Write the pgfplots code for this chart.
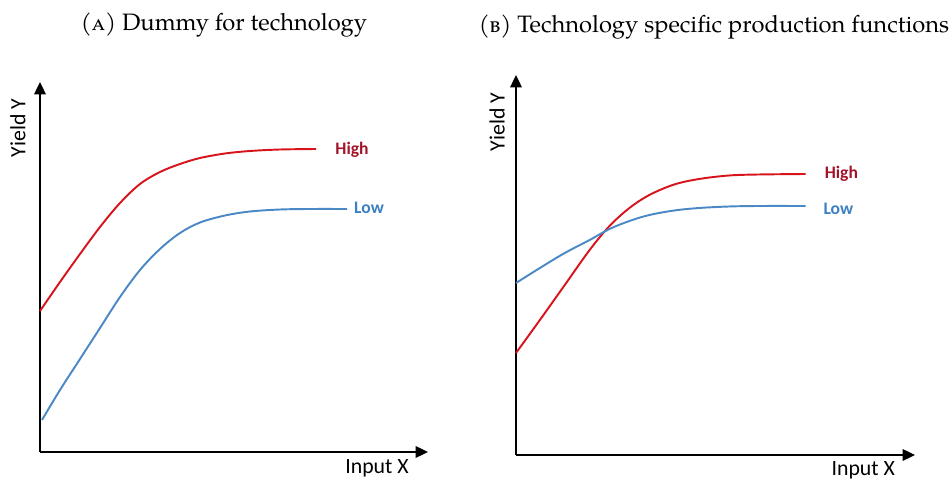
\documentclass[border=0pt]{standalone}
\usepackage{fontspec}
\usepackage{pgfplots}
\pgfplotsset{compat=1.18}
\usetikzlibrary{arrows.meta}
\newfontfamily\pala{TeX Gyre Pagella}
\newfontfamily\cali{Carlito}
\definecolor{curvered}{HTML}{D7141C}
\definecolor{curveblue}{HTML}{4A89C6}
\definecolor{labred}{HTML}{A3142B}
\definecolor{labblue}{HTML}{3C7FC2}
\pgfplotsset{
  sk/.style={
    scale only axis, clip=false,
    axis lines=left,
    xtick=\empty, ytick=\empty,
    axis line style={line width=1.1pt, -{Triangle[length=7pt,width=6.5pt]}},
    anchor=south west,
  },
  redc/.style={curvered, line width=1.1pt, smooth, tension=0.55, no marks},
  bluec/.style={curveblue, line width=1.1pt, smooth, tension=0.55, no marks},
}
\begin{document}
\begin{tikzpicture}
\useasboundingbox (0,0) rectangle (19.02,9.62);
% ---------- panel A ----------
\begin{axis}[sk, at={(0.8cm,0.58cm)}, width=7.76cm, height=7.4cm,
  xmin=40, xmax=428, ymin=29, ymax=399]
\addplot[redc] coordinates {(40,170) (60,199) (80,227) (100,254) (120,278) (140,297) (160,309) (180,317) (200,323) (225,327.5) (250,330) (280,331.5) (316,332)};
\addplot[bluec] coordinates {(42,61) (60,91) (80,122) (100,153) (120,184) (140,211) (160,232) (180,248) (200,258.5) (225,265.5) (250,269.5) (280,271.5) (310,272) (347,272)};
\node[text=labred, font=\cali\bfseries\fontsize{10}{12}\selectfont] at (axis cs:352,331) {High};
\node[text=labblue, font=\cali\bfseries\fontsize{10}{12}\selectfont] at (axis cs:369,273) {Low};
\node[font=\cali\fontsize{12.4}{14}\selectfont] at (axis cs:377,13) {Input X};
\node[font=\cali\fontsize{12.4}{14}\selectfont, rotate=90] at (axis cs:18,353) {Yield Y};
\node[font=\pala\fontsize{13.5}{16}\selectfont] at (axis cs:224,456) {(\textsc{a}) Dummy for technology};
\end{axis}
% ---------- panel B ----------
\begin{axis}[sk, at={(10.32cm,0.52cm)}, width=7.98cm, height=7.6cm,
  xmin=516, xmax=917, ymin=26, ymax=406]
\addplot[redc] coordinates {(516,128) (540,161) (565,196) (590,231) (610,255) (630,273) (650,286) (675,296.5) (700,302) (730,305.5) (760,306.5) (807,307)};
\addplot[bluec] coordinates {(516,198) (540,213) (565,228) (590,241) (610,252) (630,260) (650,266) (675,270.5) (700,273) (730,274.5) (760,275) (807,275)};
\node[text=labred, font=\cali\bfseries\fontsize{10}{12}\selectfont] at (axis cs:843,307) {High};
\node[text=labblue, font=\cali\bfseries\fontsize{10}{12}\selectfont] at (axis cs:840,272) {Low};
\node[font=\cali\fontsize{12.4}{14}\selectfont] at (axis cs:865,11) {Input X};
\node[font=\cali\fontsize{12.4}{14}\selectfont, rotate=90] at (axis cs:497,359) {Yield Y};
\node[font=\pala\fontsize{13.5}{16}\selectfont] at (axis cs:715,454) {(\textsc{b}) Technology specific production functions};
\end{axis}
\end{tikzpicture}
\end{document}
